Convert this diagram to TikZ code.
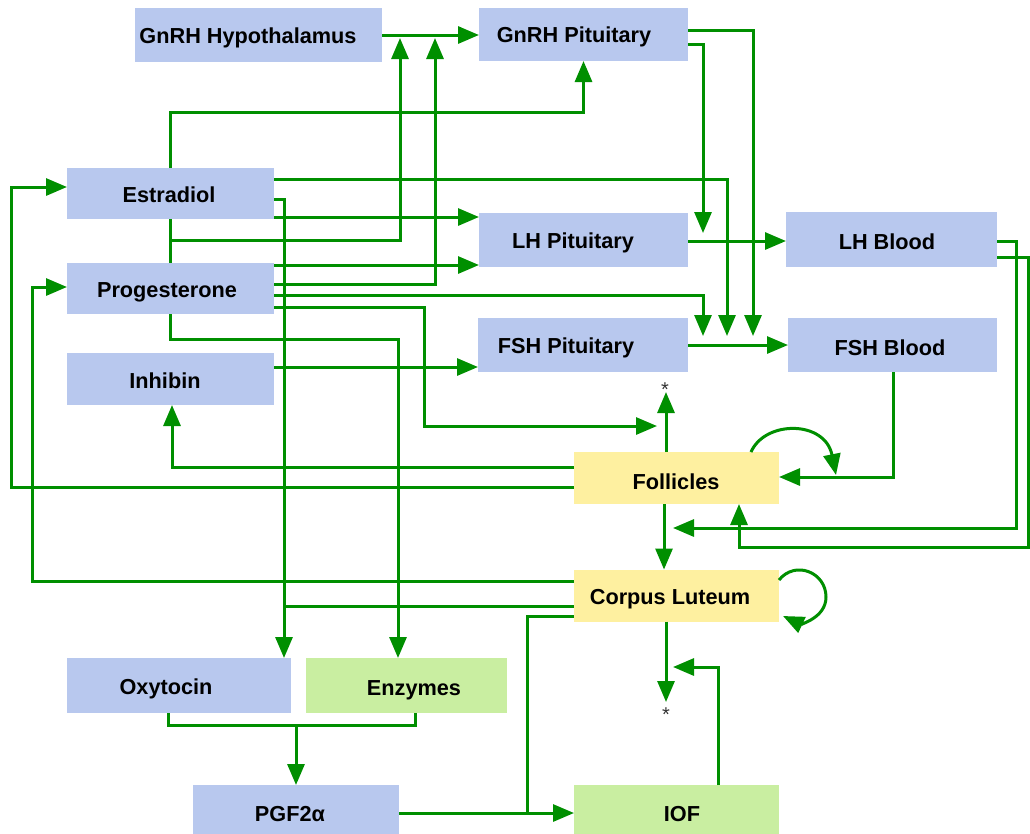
\documentclass[tikz,border=0pt]{standalone}
\usepackage{fontspec}
\setmainfont{Liberation Sans}
\usetikzlibrary{arrows.meta}
\definecolor{blu}{HTML}{B8C8EE}
\definecolor{yel}{HTML}{FEF0A0}
\definecolor{grn}{HTML}{C9EEA1}
\definecolor{lg}{HTML}{008F00}
\begin{document}
\begin{tikzpicture}[x=1pt,y=-1pt,
  box/.style={inner sep=0pt,outer sep=0pt},
  lbl/.style={font=\fontsize{21.7}{25}\selectfont\bfseries,anchor=base,inner sep=0pt},
  star/.style={font=\fontsize{20}{24}\selectfont,anchor=base,inner sep=0pt,text=black!80},
  wire/.style={draw=lg,line width=3pt},
  arr/.style={wire,-{Triangle[length=21pt,width=17pt]}}]
\clip (0,0) rectangle (1030,833);
\fill[white] (0,0) rectangle (1030,833);
% boxes
\node[box,fill=blu,minimum width=247pt,minimum height=54pt] (gh) at (258.5,35) {};
\node[box,fill=blu,minimum width=209pt,minimum height=53pt] (gp) at (583.5,34.5) {};
\node[box,fill=blu,minimum width=207pt,minimum height=51pt] (est) at (170.5,193.5) {};
\node[box,fill=blu,minimum width=207pt,minimum height=51pt] (pro) at (170.5,288.5) {};
\node[box,fill=blu,minimum width=207pt,minimum height=52pt] (inh) at (170.5,379) {};
\node[box,fill=blu,minimum width=209pt,minimum height=54pt] (lhp) at (583.5,240) {};
\node[box,fill=blu,minimum width=210pt,minimum height=54pt] (fshp) at (583,345) {};
\node[box,fill=blu,minimum width=211pt,minimum height=55pt] (lhb) at (891.5,239.5) {};
\node[box,fill=blu,minimum width=209pt,minimum height=54pt] (fshb) at (892.5,345) {};
\node[box,fill=yel,minimum width=205pt,minimum height=52pt] (fol) at (676.5,478) {};
\node[box,fill=yel,minimum width=205pt,minimum height=52pt] (cl) at (676.5,595.5) {};
\node[box,fill=blu,minimum width=224pt,minimum height=55pt] (oxy) at (179,685.5) {};
\node[box,fill=grn,minimum width=201pt,minimum height=55pt] (enz) at (406.5,685.5) {};
\node[box,fill=blu,minimum width=206pt,minimum height=56pt] (pgf) at (296,813) {};
\node[box,fill=grn,minimum width=205pt,minimum height=56pt] (iof) at (676.5,813) {};
% labels
\node[lbl] at (248,43) {GnRH Hypothalamus};
\node[lbl] at (574,42) {GnRH Pituitary};
\node[lbl] at (169,202) {Estradiol};
\node[lbl] at (167,297) {Progesterone};
\node[lbl] at (165,388) {Inhibin};
\node[lbl] at (573,248) {LH Pituitary};
\node[lbl] at (566,353) {FSH Pituitary};
\node[lbl] at (887,249) {LH Blood};
\node[lbl] at (890,355) {FSH Blood};
\node[lbl] at (676,489) {Follicles};
\node[lbl] at (670,604) {Corpus Luteum};
\node[lbl] at (166,694) {Oxytocin};
\node[lbl] at (414,695) {Enzymes};
\node[lbl] at (290,821) {PGF2α};
\node[lbl] at (682,821) {IOF};
% free ends
\coordinate (t1) at (400,38);
\coordinate (t2) at (435,38);
\coordinate (t3) at (727,336);
\coordinate (t4) at (703,336);
\coordinate (t5) at (753,336);
\coordinate (t6) at (657,426);
\coordinate (t7) at (703,233);
\coordinate (t8) at (673,528);
\coordinate (t9) at (673,667);
\coordinate (s1) at (666,392);
\coordinate (s2) at (666,702);
\coordinate (j1) at (296,725);
% connectors
\draw[arr] (gh.east) -- (gp.west |- gh.east);
\draw[arr] (est.north) |- (gp.south |- 0,112) -- (gp.south);
\draw[wire] (est.south) -- (pro.north);
\draw[arr] (est.south |- 0,240) -| (t1);
\draw[arr] (pro.east |- 0,284) -| (t2);
\draw[arr] (est.east |- 0,179) -| (t3);
\draw[arr] (est.east |- 0,199) -| (oxy.north -| 284,0);
\draw[arr] (est.east |- 0,217) -- (lhp.west |- 0,217);
\draw[arr] (pro.east |- 0,265) -- (lhp.west |- 0,265);
\draw[arr] (pro.east |- 0,295) -| (t4);
\draw[arr] (pro.east |- 0,307) -| (424,426) -- (t6);
\draw[arr] (pro.south) |- (398,339) -- (enz.north -| 398,0);
\draw[arr] (inh.east |- 0,367) -- (fshp.west |- 0,367);
\draw[arr] (gp.east |- 0,30) -| (t5);
\draw[arr] (gp.east |- 0,44) -| (t7);
\draw[arr] (lhp.east |- 0,241) -- (lhb.west |- 0,241);
\draw[arr] (fshp.east) -- (fshb.west);
\draw[arr] (lhb.east |- 0,241) -| (1016,528) -- (t8);
\draw[arr] (lhb.east |- 0,257) -| (1028,547) -| (fol.south -| 739,0);
\draw[arr] (fshb.south -| 893,0) |- (fol.east |- 0,477);
\draw[arr] (fol.north -| 751,0) .. controls (765,420) and (825,420) .. (836,475);
\draw[arr] (fol.north -| 666,0) -- (s1);
\node[star] at (665,396) {*};
\draw[arr] (fol.west |- 0,467) -| (inh.south -| 172,0);
\draw[arr] (fol.west |- 0,487) -| (11,187) -- (est.west |- 0,187);
\draw[arr] (fol.south -| 664,0) -- (cl.north -| 664,0);
\draw[arr] (cl.west |- 0,581) -| (32,287) -- (pro.west |- 0,287);
\draw[wire] (cl.west |- 0,606) -- (283,606);
\draw[wire] (cl.west |- 0,616) -| (527,813);
\draw[arr] (cl.east |- 0,580) .. controls (795,560) and (826,572) .. (826,597) .. controls (826,618) and (800,624) .. (783,616);
\draw[arr] (cl.south -| 666,0) -- (s2);
\node[star] at (666,721) {*};
\draw[arr] (iof.north -| 718,0) |- (t9);
\draw[wire] (oxy.south -| 168,0) |- (415,725) -- (enz.south -| 415,0);
\draw[arr] (j1) -- (pgf.north);
\draw[arr] (pgf.east) -- (iof.west);
\end{tikzpicture}
\end{document}
